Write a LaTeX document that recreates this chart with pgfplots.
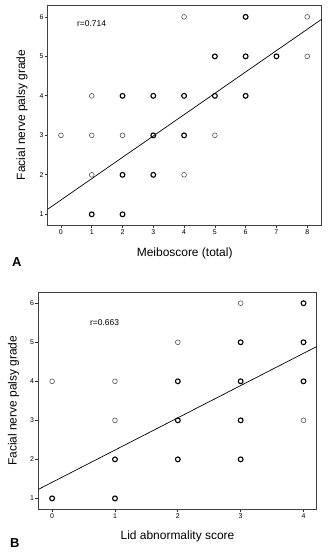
\documentclass[border=0pt]{standalone}
\usepackage{pgfplots}
\pgfplotsset{compat=1.18}
\usepackage{fontspec}
\setmainfont{Liberation Sans}
\begin{document}
\begin{tikzpicture}
\useasboundingbox (0,0) rectangle (329bp,-553bp);
\pgfplotsset{
  panel/.style={
    scale only axis,
    axis line style={draw=black!75, line width=0.9bp},
    tick pos=left, tick align=outside,
    major tick length=3bp,
    tick style={black!80, line width=0.7bp},
    ytick={1,2,3,4,5,6},
    ticklabel style={font=\fontsize{7}{8}\selectfont, inner sep=1bp},
    /pgf/number format/assume math mode=true,
    label style={font=\fontsize{12}{14}\selectfont},
    clip=false,
  },
  single/.style={only marks, mark=o, mark size=2.4bp, mark options={draw=black!70, line width=0.55bp}},
  multi/.style={only marks, mark=o, mark size=2.4bp, mark options={draw=black, line width=1.1bp}},
}
% Panel A
\begin{axis}[panel,
  at={(47.7bp,-225bp)}, anchor=south west,
  width=274bp, height=220bp,
  xmin=-0.43, xmax=8.47, ymin=0.73, ymax=6.3,
  xtick={0,1,2,3,4,5,6,7,8},
  xlabel={Meiboscore (total)},
  ylabel={Facial nerve palsy grade},
  xlabel style={at={(axis description cs:0.5,-0.127)}, anchor=center},
  ylabel style={at={(axis description cs:-0.094,0.5)}, anchor=center},
]
\addplot[single] coordinates {(0,3) (1,2) (1,3) (1,4) (2,3) (4,2) (4,6) (5,3) (8,5) (8,6)};
\addplot[multi] coordinates {(1,1) (2,1) (2,2) (2,4) (3,2) (3,3) (3,4) (4,3) (4,4) (5,4) (5,5) (6,4) (6,5) (6,6) (7,5)};
\addplot[black, line width=0.7bp, no marks] coordinates {(-0.43,1.13) (8.47,5.94)};
\node[anchor=west, font=\fontsize{8.5}{10}\selectfont, inner sep=0pt] at (axis cs:0.52,5.82) {r=0.714};
\node[font=\bfseries\fontsize{13}{15}\selectfont] at (axis description cs:-0.113,-0.167) {A};
\end{axis}
% Panel B
\begin{axis}[panel,
  at={(38.3bp,-509.3bp)}, anchor=south west,
  width=278.4bp, height=217bp,
  xmin=-0.22, xmax=4.21, ymin=0.72, ymax=6.28,
  xtick={0,1,2,3,4},
  xlabel={Lid abnormality score},
  ylabel={Facial nerve palsy grade},
  xlabel style={at={(axis description cs:0.5,-0.126)}, anchor=center},
  ylabel style={at={(axis description cs:-0.089,0.5)}, anchor=center},
]
\addplot[single] coordinates {(0,4) (1,3) (1,4) (2,5) (3,6) (4,3)};
\addplot[multi] coordinates {(0,1) (1,1) (1,2) (2,2) (2,3) (2,4) (3,2) (3,3) (3,4) (3,5) (4,4) (4,5) (4,6)};
\addplot[black, line width=0.7bp, no marks] coordinates {(-0.22,1.23) (4.21,4.89)};
\node[anchor=west, font=\fontsize{8.5}{10}\selectfont, inner sep=0pt] at (axis cs:0.6,5.5) {r=0.663};
\node[font=\bfseries\fontsize{13}{15}\selectfont] at (axis description cs:-0.084,-0.154) {B};
\end{axis}
\end{tikzpicture}
\end{document}
